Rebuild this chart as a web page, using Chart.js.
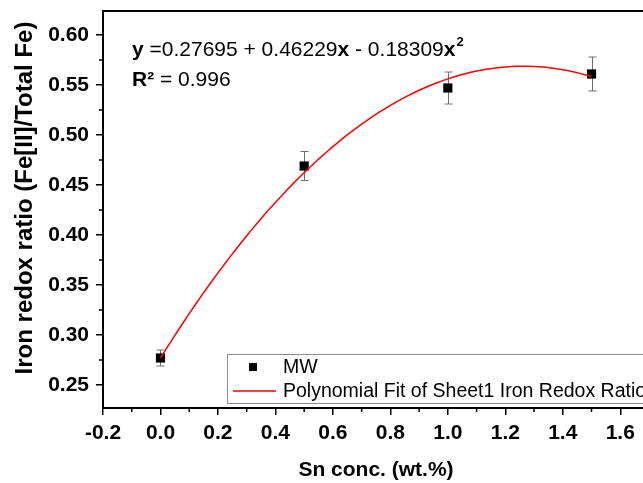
<!DOCTYPE html>
<html>
<head>
<meta charset="utf-8">
<script src="https://cdn.jsdelivr.net/npm/chart.js@4"></script>
<style>
  html, body { margin: 0; padding: 0; background: #fff; overflow: hidden; }
  #wrap { width: 660px; height: 483px; }
</style>
</head>
<body>
<div id="wrap"><canvas id="redoxChart" width="660" height="483"></canvas></div>
<script>
// Sn concentration vs. iron redox ratio, with a 2nd order polynomial fit
const snConc = [0.0, 0.5, 1.0, 1.5];
const redoxRatio = [0.277, 0.469, 0.547, 0.561];
const redoxErr = [0.008, 0.0145, 0.016, 0.017];

// fit coefficients: y = c0 + c1*x + c2*x^2
const fitCoef = [0.27695, 0.46229, -0.18309];
const fitR2 = '0.996';

const xTicks = [-0.2, 0.0, 0.2, 0.4, 0.6, 0.8, 1.0, 1.2, 1.4, 1.6];
const xMinor = [-0.1, 0.1, 0.3, 0.5, 0.7, 0.9, 1.1, 1.3, 1.5];
const yTicks = [0.25, 0.30, 0.35, 0.40, 0.45, 0.50, 0.55, 0.60];
const yMinor = [0.275, 0.325, 0.375, 0.425, 0.475, 0.525, 0.575];

const yTitle = 'Iron redox ratio (Fe[II]/Total Fe)';
const xTitle = 'Sn conc. (wt.%)';

const FONT = '"Liberation Sans", Arial, sans-serif';

// curve of the fitted polynomial over the measured range
const fitPoints = [];
for (let i = 0; i <= 75; i++) {
  const x = i * 0.02;
  fitPoints.push({ x: x, y: fitCoef[0] + fitCoef[1] * x + fitCoef[2] * x * x });
}

const extras = {
  id: 'extras',
  beforeDatasetsDraw(chart) {
    const { ctx, scales: { x, y } } = chart;
    ctx.save();
    ctx.strokeStyle = '#6e6e6e';
    ctx.lineWidth = 1;
    snConc.forEach((v, i) => {
      const px = Math.round(x.getPixelForValue(v)) + 0.5;
      const top = y.getPixelForValue(redoxRatio[i] + redoxErr[i]);
      const bot = y.getPixelForValue(redoxRatio[i] - redoxErr[i]);
      ctx.beginPath();
      ctx.moveTo(px, top); ctx.lineTo(px, bot);
      ctx.moveTo(px - 4, top); ctx.lineTo(px + 4, top);
      ctx.moveTo(px - 4, bot); ctx.lineTo(px + 4, bot);
      ctx.stroke();
    });
    ctx.restore();
  },
  afterDraw(chart) {
    const { ctx, chartArea: a, scales: { x, y } } = chart;
    ctx.save();
    // frame top edge
    ctx.strokeStyle = '#000';
    ctx.lineWidth = 2;
    ctx.beginPath();
    ctx.moveTo(a.left - 1, a.top);
    ctx.lineTo(a.right, a.top);
    ctx.stroke();

    // minor ticks
    ctx.lineWidth = 1.5;
    ctx.beginPath();
    yMinor.forEach(v => {
      const py = y.getPixelForValue(v);
      ctx.moveTo(a.left, py); ctx.lineTo(a.left - 4, py);
    });
    xMinor.forEach(v => {
      const px = x.getPixelForValue(v);
      ctx.moveTo(px, a.bottom); ctx.lineTo(px, a.bottom + 4);
    });
    ctx.stroke();

    // y axis title
    ctx.fillStyle = '#000';
    ctx.save();
    ctx.translate(25, 198);
    ctx.rotate(-Math.PI / 2);
    ctx.font = 'bold 24px ' + FONT;
    ctx.textAlign = 'center';
    ctx.textBaseline = 'middle';
    ctx.fillText(yTitle, 0, 0);
    ctx.restore();

    // fit equation
    ctx.textBaseline = 'alphabetic';
    let cx = 132;
    const line1 = [
      ['bold', 'y'], ['normal', ' =' + fitCoef[0].toFixed(5) + ' + ' + fitCoef[1].toFixed(5)],
      ['bold', 'x'], ['normal', ' - ' + Math.abs(fitCoef[2]).toFixed(5)], ['bold', 'x']
    ];
    line1.forEach(([w, t]) => {
      ctx.font = w + ' 21px ' + FONT;
      ctx.fillText(t, cx, 56);
      cx += ctx.measureText(t).width;
    });
    ctx.font = 'bold 13px ' + FONT;
    ctx.fillText('2', cx + 1, 46);
    ctx.font = 'bold 21px ' + FONT;
    ctx.fillText('R²', 132, 86);
    const rw = ctx.measureText('R²').width;
    ctx.font = 'normal 21px ' + FONT;
    ctx.fillText(' = ' + fitR2, 132 + rw, 86);

    // legend box
    ctx.strokeStyle = '#8a8a8a';
    ctx.lineWidth = 1;
    ctx.fillStyle = '#fff';
    ctx.fillRect(227.5, 354.5, 440, 49);
    ctx.strokeRect(227.5, 354.5, 440, 49);
    ctx.fillStyle = '#000';
    ctx.fillRect(249, 363, 8, 8);
    ctx.strokeStyle = '#ff0000';
    ctx.lineWidth = 1.5;
    ctx.beginPath();
    ctx.moveTo(233, 391); ctx.lineTo(276, 391);
    ctx.stroke();
    ctx.font = 'normal 19.5px ' + FONT;
    ctx.textBaseline = 'middle';
    ctx.fillText('MW', 283, 368);
    ctx.fillText(chart.data.datasets[0].label, 283, 392);
    ctx.restore();
  }
};

const ctx = document.getElementById('redoxChart');

new Chart(ctx, {
  type: 'scatter',
  data: {
    datasets: [
      {
        label: 'Polynomial Fit of Sheet1 Iron Redox Ratio',
        type: 'line',
        data: fitPoints,
        borderColor: '#ff0000',
        borderWidth: 1.5,
        pointRadius: 0,
        tension: 0,
        fill: false,
        order: 0
      },
      {
        label: 'MW',
        data: snConc.map((v, i) => ({ x: v, y: redoxRatio[i] })),
        pointStyle: 'rect',
        pointRadius: 6.5,
        pointBackgroundColor: '#000',
        pointBorderWidth: 0,
        order: 1
      }
    ]
  },
  options: {
    responsive: false,
    animation: false,
    events: [],
    layout: { padding: { top: 11, right: 11, left: 0, bottom: 0 } },
    plugins: {
      legend: { display: false },
      tooltip: { enabled: false }
    },
    scales: {
      x: {
        type: 'linear',
        min: -0.2,
        max: 1.7,
        afterBuildTicks: s => { s.ticks = xTicks.map(v => ({ value: v })); },
        afterFit: s => { s.height = 75; s.paddingLeft = 0; s.paddingRight = 0; },
        ticks: {
          color: '#000',
          font: { family: FONT, size: 21, weight: 'bold' },
          padding: 6,
          maxRotation: 0,
          callback: v => v.toFixed(1)
        },
        grid: { drawOnChartArea: false, drawTicks: true, tickLength: 7, color: '#000', lineWidth: 1.5 },
        border: { display: true, color: '#000', width: 2 },
        title: {
          display: true,
          text: xTitle,
          color: '#000',
          font: { family: FONT, size: 21, weight: 'bold' },
          padding: { top: 0, bottom: 0 }
        }
      },
      y: {
        min: 0.227,
        max: 0.624,
        afterBuildTicks: s => { s.ticks = yTicks.map(v => ({ value: v })); },
        afterFit: s => { s.width = 103; s.paddingTop = 0; s.paddingBottom = 0; },
        ticks: {
          color: '#000',
          font: { family: FONT, size: 21, weight: 'bold' },
          padding: 7,
          callback: v => v.toFixed(2)
        },
        grid: { drawOnChartArea: false, drawTicks: true, tickLength: 7, color: '#000', lineWidth: 1.5 },
        border: { display: true, color: '#000', width: 2 },
        title: { display: false }
      }
    }
  },
  plugins: [extras]
});
</script>
</body>
</html>
